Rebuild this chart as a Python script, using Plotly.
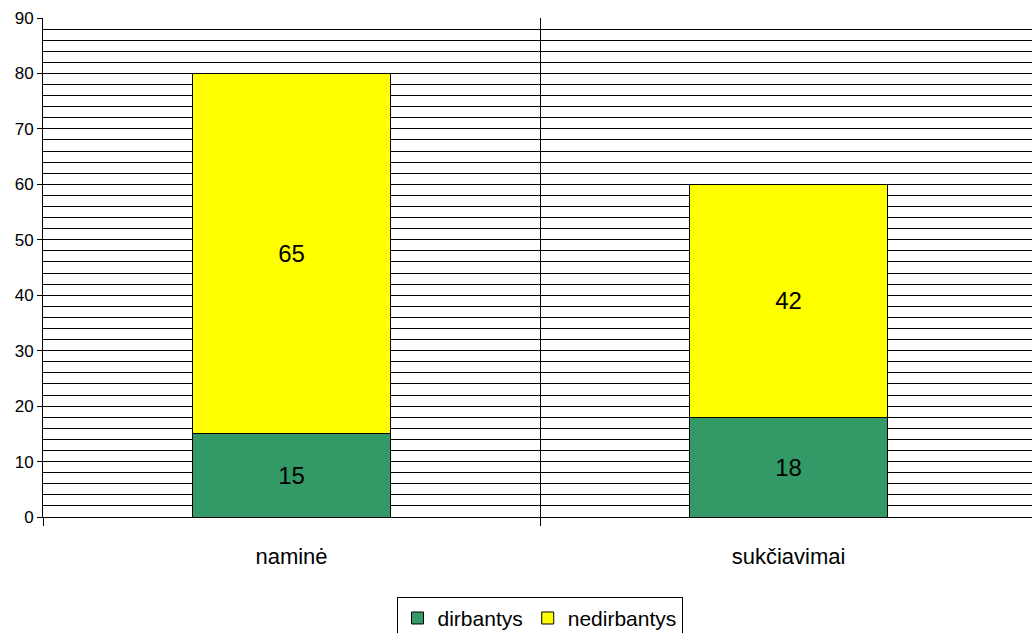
import plotly.graph_objects as go

categories = ["naminė", "sukčiavimai"]
dirbantys = [15, 18]
nedirbantys = [65, 42]
series_names = ["dirbantys", "nedirbantys"]
colors = ["#339966", "#FFFF00"]

fig = go.Figure()
for name, vals, col in zip(series_names, [dirbantys, nedirbantys], colors):
    fig.add_trace(go.Bar(
        x=categories, y=vals, name=name,
        marker=dict(color=col, line=dict(color="black", width=1)),
        text=[str(v) for v in vals], textposition="inside", insidetextanchor="middle",
        textangle=0,
        textfont=dict(family="Liberation Sans, Arial", size=24, color="black"),
        width=0.4,
    ))

fig.update_layout(
    barmode="stack",
    width=1037, height=633,
    margin=dict(l=43, r=0, t=18, b=116, autoexpand=False),
    plot_bgcolor="white", paper_bgcolor="white",
    font=dict(family="Liberation Sans, Arial", color="black"),
    showlegend=True,
    legend=dict(orientation="h", x=0.4995, xanchor="center", y=-0.16, yanchor="top",
                bordercolor="black", borderwidth=1, font=dict(size=21),
                itemwidth=30, traceorder="normal"),
)
fig.update_xaxes(
    type="category", tickson="boundaries", ticks="outside", ticklen=8, tickcolor="black",
    showgrid=True, gridcolor="black", gridwidth=1,
    showline=True, linecolor="black", linewidth=1,
    tickfont=dict(size=22), range=[-0.5, 1.5], automargin=False,
    ticklabelstandoff=20,
)
fig.update_yaxes(
    range=[0, 90], dtick=10, ticks="outside", ticklen=5, tickcolor="black",
    showgrid=True, gridcolor="black", gridwidth=1,
    minor=dict(dtick=2, showgrid=True, gridcolor="black", gridwidth=1),
    showline=True, linecolor="black", linewidth=1, zeroline=False,
    tickfont=dict(size=17), automargin=False,
)
fig.write_html("out.html", config={"displayModeBar": False},
               post_script="document.body.style.margin='0';document.body.style.padding='0';"
                           "document.body.style.overflow='hidden';")
